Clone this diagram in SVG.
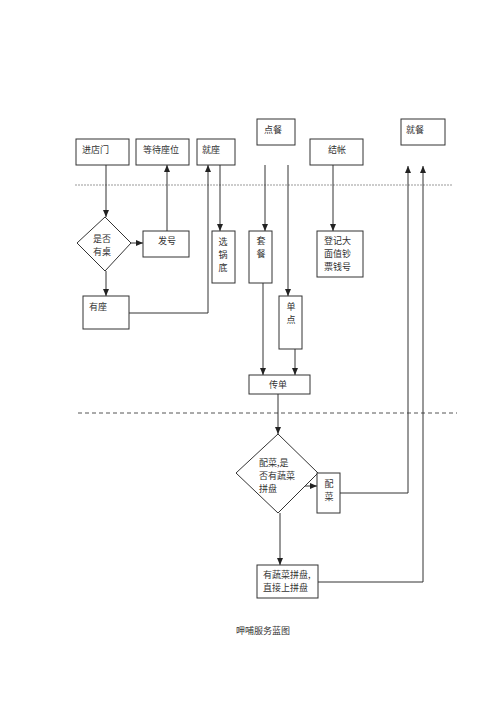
<svg xmlns="http://www.w3.org/2000/svg" width="500" height="708" viewBox="0 0 500 708">
<defs>
<marker id="ah" markerWidth="8" markerHeight="8" refX="7" refY="4" orient="auto" markerUnits="userSpaceOnUse">
<path d="M0,1 L7,4 L0,7 Z" fill="#222"/>
</marker>
<style>
.box{fill:#fff;stroke:#333;stroke-width:1}
.t{font-family:"Noto Sans CJK SC","Noto Sans",sans-serif;font-size:9px;fill:#333}
.c{text-anchor:middle}
.ln{fill:none;stroke:#333;stroke-width:1}
.ar{fill:none;stroke:#333;stroke-width:1;marker-end:url(#ah)}
</style>
</defs>
<rect width="500" height="708" fill="#fff"/>
<line x1="75" y1="185" x2="453" y2="185" stroke="#999" stroke-width="1" stroke-dasharray="2,1"/>
<line x1="78" y1="413" x2="457" y2="413" stroke="#555" stroke-width="1" stroke-dasharray="4,3"/>
<g id="connectors">
<line class="ar" x1="106" y1="165" x2="106" y2="217"/>
<line class="ar" x1="131" y1="243" x2="143" y2="243"/>
<line class="ar" x1="167" y1="231" x2="167" y2="165"/>
<line class="ar" x1="106" y1="271" x2="106" y2="296"/>
<polyline class="ar" points="129,313 208,313 208,165"/>
<line class="ar" x1="220" y1="165" x2="220" y2="231"/>
<line class="ar" x1="265" y1="165" x2="265" y2="231"/>
<line class="ar" x1="288" y1="165" x2="288" y2="296"/>
<line class="ar" x1="333" y1="165" x2="333" y2="231"/>
<line class="ar" x1="263" y1="283" x2="263" y2="375"/>
<line class="ar" x1="295" y1="349" x2="295" y2="375"/>
<line class="ar" x1="278" y1="394" x2="278" y2="434"/>
<line class="ar" x1="304" y1="486" x2="317" y2="486"/>
<polyline class="ar" points="340,493 408,493 408,166"/>
<line class="ar" x1="280" y1="513" x2="280" y2="565"/>
<polyline class="ar" points="318,582 423,582 423,166"/>
</g>
<g id="n-jindianmen"><rect class="box" x="76" y="139" width="53" height="26"/><text class="t" x="82" y="153">进店门</text></g>
<g id="n-dengdai"><rect class="box" x="136" y="139" width="53" height="26"/><text class="t" x="143" y="153">等待座位</text></g>
<g id="n-jiuzuo"><rect class="box" x="197" y="139" width="38" height="26"/><text class="t" x="202" y="153">就座</text></g>
<g id="n-diancan"><rect class="box" x="257" y="119" width="38" height="26"/><text class="t" x="264" y="133">点餐</text></g>
<g id="n-jiezhang"><rect class="box" x="310" y="139" width="53" height="26"/><text class="t c" x="337" y="153">结帐</text></g>
<g id="n-jiucan"><rect class="box" x="401" y="119" width="44" height="26"/><text class="t" x="406" y="133">就餐</text></g>
<g id="n-shifou"><polygon class="box" points="105,217 131,243 105,271 77,243"/><text class="t c" x="102" y="242">是否</text><text class="t c" x="102" y="255">有桌</text></g>
<g id="n-fahao"><rect class="box" x="143" y="231" width="46" height="26"/><text class="t c" x="167" y="244">发号</text></g>
<g id="n-youzuo"><rect class="box" x="83" y="296" width="46" height="33"/><text class="t" x="89" y="310">有座</text></g>
<g id="n-xuanguodi"><rect class="box" x="212" y="231" width="23" height="52"/><text class="t c" x="223" y="245">选</text><text class="t c" x="223" y="258">锅</text><text class="t c" x="223" y="271">底</text></g>
<g id="n-taocan"><rect class="box" x="249" y="231" width="23" height="52"/><text class="t c" x="261" y="244">套</text><text class="t c" x="261" y="257">餐</text></g>
<g id="n-dandian"><rect class="box" x="279" y="296" width="23" height="53"/><text class="t c" x="291" y="310">单</text><text class="t c" x="291" y="323">点</text></g>
<g id="n-dengji"><rect class="box" x="317" y="231" width="46" height="46"/><text class="t" x="324" y="244">登记大</text><text class="t" x="324" y="257">面值钞</text><text class="t" x="324" y="270">票钱号</text></g>
<g id="n-chuandan"><rect class="box" x="249" y="375" width="61" height="19"/><text class="t c" x="278" y="388">传单</text></g>
<g id="n-peicai-q"><polygon class="box" points="278,434 318,473 278,513 236,473"/><text class="t" x="259" y="466">配菜,是</text><text class="t" x="259" y="479">否有蔬菜</text><text class="t" x="259" y="492">拼盘</text></g>
<g id="n-peicai"><rect class="box" x="317" y="473" width="23" height="40"/><text class="t c" x="329" y="487">配</text><text class="t c" x="329" y="500">菜</text></g>
<g id="n-pinpan"><rect class="box" x="257" y="565" width="61" height="33"/><text class="t" x="263" y="578">有蔬菜拼盘,</text><text class="t" x="263" y="591">直接上拼盘</text></g>
<text class="t c" x="263" y="634">呷哺服务蓝图</text>
</svg>
